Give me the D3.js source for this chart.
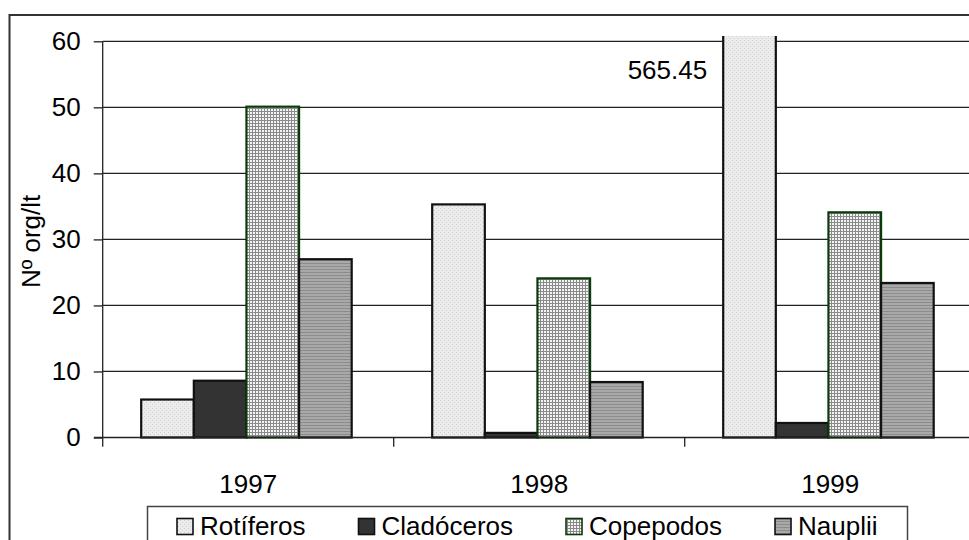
<!DOCTYPE html>
<html>
<head>
<meta charset="utf-8">
<script src="https://cdn.jsdelivr.net/npm/d3@7"></script>
<style>
  html, body { margin: 0; padding: 0; background: #fff; }
  svg { display: block; font-family: Arial, "Liberation Sans", sans-serif; }
</style>
</head>
<body>
<svg id="chart" width="969" height="540"></svg>
<script>
// Zooplankton density per year (organisms per litre)
const years = ["1997", "1998", "1999"];
const series = ["Rotíferos", "Cladóceros", "Copepodos", "Nauplii"];
const rotiferos  = [5.75, 35.3, 565.45];
const cladoceros = [8.6, 0.7, 2.2];
const copepodos  = [50.1, 24.1, 34.1];
const nauplii    = [27.0, 8.4, 23.4];
const yTicks = [0, 10, 20, 30, 40, 50, 60];
const yTitle = "Nº org/lt";

const values = [rotiferos, cladoceros, copepodos, nauplii];
const rows = [];
series.forEach((s, si) => years.forEach((y, yi) => rows.push({ series: s, year: y, value: values[si][yi] })));

const svg = d3.select("#chart");
const defs = svg.append("defs");

// Fill patterns for each series
const pRot = defs.append("pattern").attr("id", "pat-rot").attr("patternUnits", "userSpaceOnUse")
  .attr("width", 4).attr("height", 4);
pRot.append("rect").attr("width", 4).attr("height", 4).attr("fill", "#ececec");
pRot.append("rect").attr("x", 0).attr("y", 0).attr("width", 1).attr("height", 1).attr("fill", "#cfcfcf");
pRot.append("rect").attr("x", 2).attr("y", 2).attr("width", 1).attr("height", 1).attr("fill", "#cfcfcf");

const pCop = defs.append("pattern").attr("id", "pat-cop").attr("patternUnits", "userSpaceOnUse")
  .attr("width", 3).attr("height", 3);
pCop.append("rect").attr("width", 3).attr("height", 3).attr("fill", "#8a8a8a");
pCop.append("rect").attr("x", 1).attr("y", 1).attr("width", 2).attr("height", 2).attr("fill", "#f4f4f4");

const pNau = defs.append("pattern").attr("id", "pat-nau").attr("patternUnits", "userSpaceOnUse")
  .attr("width", 4).attr("height", 3);
pNau.append("rect").attr("width", 4).attr("height", 3).attr("fill", "#a9a9a9");
pNau.append("rect").attr("y", 2).attr("width", 4).attr("height", 1).attr("fill", "#8c8c8c");

const fills = { "Rotíferos": "url(#pat-rot)", "Cladóceros": "#333333", "Copepodos": "url(#pat-cop)", "Nauplii": "url(#pat-nau)" };
const strokes = { "Rotíferos": "#111", "Cladóceros": "#111", "Copepodos": "#0b3a0b", "Nauplii": "#111" };

// Scales
const x0 = d3.scaleBand().domain(years).range([102.7, 975.7]).padding(0);
const x1 = d3.scaleBand().domain(series).range([38.5, 249]).padding(0);
const y = d3.scaleLinear().domain([0, 60]).range([437.5, 41.3]);

// Outer chart frame (only the top and left edges fall inside the view)
svg.append("path").attr("d", "M9.5,560 V15 H990").attr("fill", "none").attr("stroke", "#333").attr("stroke-width", 2);

// Gridlines
svg.append("g").selectAll("line").data(yTicks.filter(t => t > 0)).join("line")
  .attr("x1", 102.7).attr("x2", 975.7)
  .attr("y1", d => y(d)).attr("y2", d => y(d))
  .attr("stroke", "#222").attr("stroke-width", 1.3);

// Y axis
const yAxis = svg.append("g").attr("transform", "translate(102.7,0)")
  .call(d3.axisLeft(y).tickValues(yTicks).tickSize(9).tickPadding(13).tickFormat(d3.format("d")));
yAxis.select(".domain").attr("stroke", "#222").attr("stroke-width", 1.3).attr("d", `M-0.0,${y(60)}V${y(0)}`);
yAxis.selectAll(".tick line").attr("stroke", "#222").attr("stroke-width", 1.3);
yAxis.selectAll(".tick text").attr("font-size", 26).attr("fill", "#000").attr("font-family", "Arial, 'Liberation Sans', sans-serif");

// Bars (clipped at the top of the plot region)
defs.append("clipPath").attr("id", "plot-clip").append("rect")
  .attr("x", 0).attr("y", 36).attr("width", 1000).attr("height", 420);

const bars = svg.append("g").attr("clip-path", "url(#plot-clip)");
bars.selectAll("rect").data(rows).join("rect")
  .attr("x", d => x0(d.year) + x1(d.series))
  .attr("y", d => y(d.value))
  .attr("width", x1.bandwidth())
  .attr("height", d => y(0) - y(d.value))
  .attr("fill", d => fills[d.series])
  .attr("stroke", d => strokes[d.series])
  .attr("stroke-width", 2.2);

// X axis (baseline and category separators)
const xAxis = svg.append("g").attr("transform", `translate(0,${y(0)})`);
xAxis.append("line").attr("x1", 94).attr("x2", 975.7).attr("y1", 0).attr("y2", 0)
  .attr("stroke", "#222").attr("stroke-width", 1.3);
xAxis.selectAll("line.sep").data(years.concat(["end"])).join("line").attr("class", "sep")
  .attr("x1", (d, i) => 102.7 + i * x0.bandwidth()).attr("x2", (d, i) => 102.7 + i * x0.bandwidth())
  .attr("y1", 0).attr("y2", 9.2).attr("stroke", "#222").attr("stroke-width", 1.3);
xAxis.selectAll("text").data(years).join("text")
  .attr("x", d => x0(d) + x0.bandwidth() / 2)
  .attr("y", 55)
  .attr("text-anchor", "middle").attr("font-size", 26).attr("fill", "#000")
  .text(d => d);

// Value label for the bar that exceeds the axis range
const big = rows.find(r => r.value > 60);
svg.append("text")
  .attr("x", x0(big.year) + x1(big.series) - 16)
  .attr("y", 79.3)
  .attr("text-anchor", "end").attr("font-size", 26).attr("fill", "#000")
  .text(d3.format(".2f")(big.value));

// Y axis title
svg.append("text")
  .attr("transform", `translate(40,${(y(0) + y(60)) / 2 + 2}) rotate(-90)`)
  .attr("text-anchor", "middle").attr("font-size", 26).attr("fill", "#000")
  .text(yTitle);

// Legend
const legend = svg.append("g");
legend.append("rect").attr("x", 147.5).attr("y", 506.5).attr("width", 760).attr("height", 60)
  .attr("fill", "#fff").attr("stroke", "#444").attr("stroke-width", 1.5);
let lx = 177;
series.forEach(s => {
  legend.append("rect").attr("x", lx).attr("y", 518.5).attr("width", 16).attr("height", 16)
    .attr("fill", fills[s]).attr("stroke", strokes[s]).attr("stroke-width", 1.6);
  const t = legend.append("text").attr("x", lx + 23).attr("y", 535)
    .attr("font-size", 26).attr("fill", "#000").text(s);
  lx = lx + 23 + t.node().getComputedTextLength() + 53;
});
</script>
</body>
</html>
